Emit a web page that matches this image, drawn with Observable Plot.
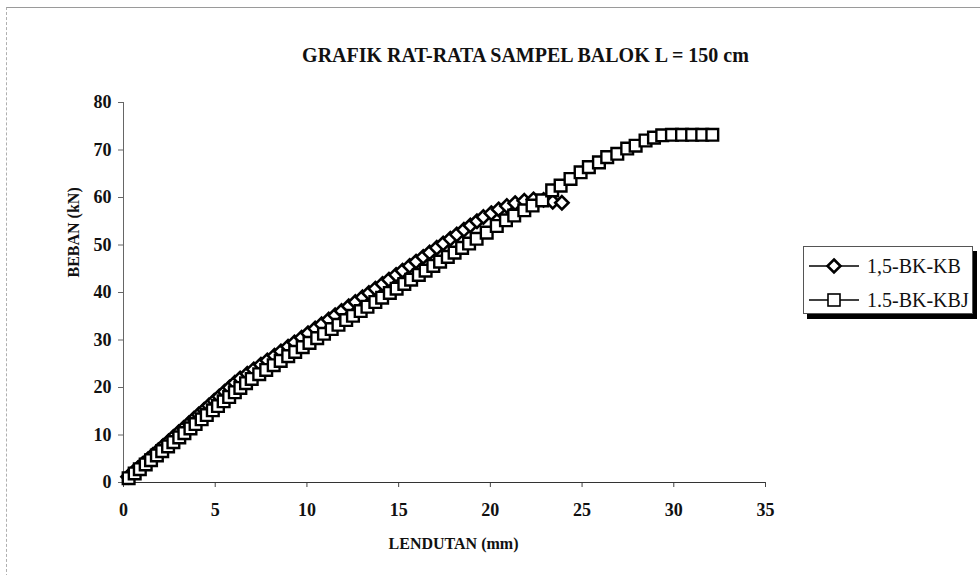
<!DOCTYPE html>
<html>
<head>
<meta charset="utf-8">
<script src="https://cdn.jsdelivr.net/npm/d3@7"></script>
<script src="https://cdn.jsdelivr.net/npm/@observablehq/plot@0.6"></script>
<style>
  body { margin: 0; background: #fff; }
  #wrap { position: relative; width: 980px; height: 575px; overflow: hidden; background: #fff; }
  #border { position: absolute; left: 6px; top: 7px; right: -2px; bottom: -2px;
            border-top: 1px solid #9a9a9a; border-left: 1px dashed #b0b0b0; pointer-events: none; }
  #legend { position: absolute; left: 803px; top: 246px; width: 168px; height: 66px;
            border: 1px solid #555; background: #fff; box-shadow: 4px 5px 0 #000;
            font-family: "Liberation Serif", "Times New Roman", serif; font-size: 20px; color: #111; }
  .row { position: absolute; left: 4px; height: 30px; display: flex; align-items: center; }
  .row svg { display: block; }
  .row span { margin-left: 7px; white-space: nowrap; }
</style>
</head>
<body>
<div id="wrap"><div id="border"></div></div>
<script>
// ---- data ----
const seriesNames = ["1,5-BK-KB", "1.5-BK-KBJ"];
const xTicks = [0, 5, 10, 15, 20, 25, 30, 35];
const yTicks = [0, 10, 20, 30, 40, 50, 60, 70, 80];

const xKB = [0.25, 0.51, 0.78, 1.04, 1.34, 1.60, 1.90, 2.16, 2.46, 2.72, 3.01, 3.28, 3.57, 3.84, 4.10, 4.40, 4.66, 4.95, 5.22, 5.51, 5.78, 6.07,
  6.36, 6.75, 7.10, 7.49, 7.84, 8.23, 8.58, 8.97, 9.32, 9.71, 10.06, 10.45, 10.80, 11.19, 11.54, 11.89, 12.28, 12.64, 13.03, 13.38, 13.73,
  14.12, 14.47, 14.86, 15.21, 15.60, 15.95, 16.34, 16.69, 17.08, 17.43, 17.82, 18.17, 18.56, 18.91, 19.27, 19.62, 20.05, 20.45, 20.90,
  21.35, 21.85, 22.35, 22.90, 23.40, 23.90];
const yKB = [1.2, 2.1, 3.0, 3.9, 4.9, 5.8, 6.8, 7.7, 8.7, 9.6, 10.6, 11.5, 12.5, 13.4, 14.3, 15.3, 16.2, 17.2, 18.1, 19.1, 20.0, 21.0,
  21.9, 22.9, 23.8, 24.8, 25.7, 26.7, 27.6, 28.6, 29.5, 30.5, 31.4, 32.4, 33.3, 34.3, 35.2, 36.1, 37.1, 38.0, 39.0, 39.9, 40.8,
  41.8, 42.7, 43.7, 44.6, 45.6, 46.5, 47.5, 48.4, 49.4, 50.3, 51.3, 52.2, 53.2, 54.1, 55.0, 55.9, 56.7, 57.5, 58.2,
  58.8, 59.3, 59.6, 59.5, 59.1, 58.9];

const xKBJ = [0.28, 0.61, 0.89, 1.21, 1.50, 1.82, 2.11, 2.43, 2.72, 3.04, 3.32, 3.65, 3.93, 4.26, 4.54, 4.87, 5.15, 5.46, 5.76, 6.07,
  6.37, 6.68, 6.99, 7.40, 7.78, 8.19, 8.57, 8.98, 9.36, 9.77, 10.14, 10.56, 10.93, 11.35, 11.72, 12.14, 12.51, 12.93, 13.30, 13.73,
  14.10, 14.52, 14.89, 15.31, 15.68, 16.10, 16.47, 16.89, 17.26, 17.68, 18.05, 18.46, 18.84, 19.25, 19.80, 20.35, 20.85, 21.30,
  21.85, 22.30, 22.83, 23.37, 23.83, 24.37, 24.92, 25.37, 25.92, 26.37, 26.92, 27.46, 27.92, 28.46, 28.92, 29.37, 29.90, 30.45,
  31.00, 31.55, 32.10];
const yKBJ = [0.9, 1.9, 2.8, 3.8, 4.7, 5.7, 6.6, 7.6, 8.5, 9.5, 10.4, 11.4, 12.3, 13.3, 14.2, 15.2, 16.1, 17.1, 18.0, 19.0,
  19.9, 20.9, 21.8, 22.8, 23.7, 24.7, 25.6, 26.6, 27.5, 28.5, 29.4, 30.4, 31.3, 32.3, 33.2, 34.2, 35.1, 36.1, 37.0, 38.0,
  38.9, 39.9, 40.8, 41.8, 42.7, 43.7, 44.6, 45.6, 46.5, 47.5, 48.4, 49.4, 50.3, 51.3, 52.6, 54.0, 55.2, 56.2,
  57.3, 58.3, 59.4, 61.5, 62.5, 63.9, 65.3, 66.4, 67.4, 68.5, 69.2, 70.3, 70.9, 72.0, 72.6, 73.1, 73.2, 73.2,
  73.2, 73.2, 73.2];

const titleText = "GRAFIK RAT-RATA SAMPEL BALOK L = 150 cm";
const xLabel = "LENDUTAN (mm)";
const yLabel = "BEBAN (kN)";

// ---- tables ----
const kb = xKB.map((x, i) => ({x, y: yKB[i]}));
const kbj = xKBJ.map((x, i) => ({x, y: yKBJ[i]}));

const font = "Liberation Serif, Times New Roman, serif";

const chart = Plot.plot({
  width: 980,
  height: 575,
  marginLeft: 123,
  marginRight: 215,
  marginTop: 102,
  marginBottom: 93,
  style: {fontFamily: font, background: "transparent", color: "#111"},
  x: {domain: [0, 35]},
  y: {domain: [0, 80]},
  marks: [
    Plot.axisX({ticks: xTicks, tickSize: 5, tickPadding: 16, fontSize: 18, fontWeight: "bold", label: null, stroke: "#444", tickFormat: d => String(d)}),
    Plot.axisY({ticks: yTicks, tickSize: 5, tickPadding: 7, fontSize: 18, fontWeight: "bold", label: null, stroke: "#666", tickFormat: d => String(d)}),
    Plot.ruleX([0], {stroke: "#666", strokeWidth: 1}),
    Plot.ruleY([0], {stroke: "#333", strokeWidth: 1.2}),
    Plot.line(kb, {x: "x", y: "y", stroke: "#000", strokeWidth: 1.2}),
    Plot.dot(kb, {x: "x", y: "y", symbol: "diamond2", r: 6, fill: "#fff", stroke: "#000", strokeWidth: 2.6}),
    Plot.line(kbj, {x: "x", y: "y", stroke: "#000", strokeWidth: 1.2}),
    Plot.dot(kbj, {x: "x", y: "y", symbol: "square", r: 6.6, fill: "#fff", stroke: "#000", strokeWidth: 2.4}),
    Plot.text([titleText], {text: d => d, frameAnchor: "top", dx: 81, dy: -47, lineAnchor: "middle", fontSize: 20, fontWeight: "bold", fill: "#111"}),
    Plot.text([xLabel], {text: d => d, frameAnchor: "bottom", dx: 9, dy: 61, lineAnchor: "middle", fontSize: 16, fontWeight: "bold", fill: "#111"}),
    Plot.text([yLabel], {text: d => d, frameAnchor: "left", dx: -50, dy: -15, rotate: -90, lineAnchor: "middle", fontSize: 16, fontWeight: "bold", fill: "#111"})
  ]
});
chart.style.position = "absolute";
chart.style.left = "0px";
chart.style.top = "0px";
const wrap = document.getElementById("wrap");
wrap.appendChild(chart);

// ---- legend ----
const legend = document.createElement("div");
legend.id = "legend";
const symbols = ["diamond", "square"];
seriesNames.forEach((name, i) => {
  const row = document.createElement("div");
  row.className = "row";
  row.style.top = (4 + i * 34) + "px";
  const s = d3.create("svg").attr("width", 52).attr("height", 24);
  s.append("line").attr("x1", 1).attr("x2", 51).attr("y1", 12).attr("y2", 12).attr("stroke", "#000").attr("stroke-width", 1.5);
  if (symbols[i] === "diamond") {
    s.append("path").attr("d", "M26,5.5L32.5,12L26,18.5L19.5,12Z").attr("fill", "#fff").attr("stroke", "#000").attr("stroke-width", 2.6);
  } else {
    s.append("rect").attr("x", 20).attr("y", 6).attr("width", 12).attr("height", 12).attr("fill", "#fff").attr("stroke", "#000").attr("stroke-width", 1.6);
  }
  row.appendChild(s.node());
  const t = document.createElement("span");
  t.textContent = name;
  row.appendChild(t);
  legend.appendChild(row);
});
wrap.appendChild(legend);
</script>
</body>
</html>
